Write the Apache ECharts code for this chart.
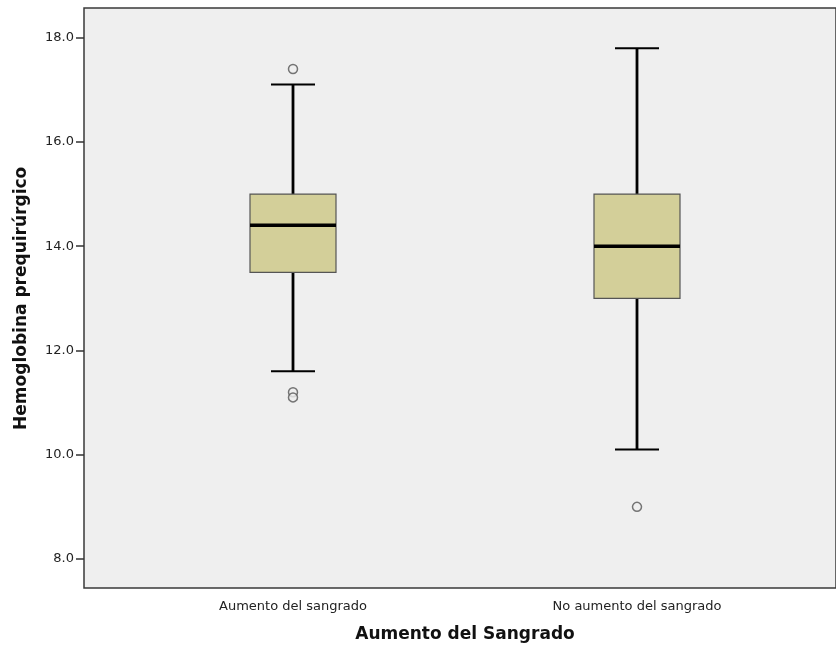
<!DOCTYPE html>
<html>
<head>
<meta charset="utf-8">
<script src="https://cdn.jsdelivr.net/npm/echarts@6/dist/echarts.min.js"></script>
<style>
  html, body { margin: 0; padding: 0; background: #fff; }
  #main { width: 836px; height: 651px; }
</style>
</head>
<body>
<div id="main"></div>
<script>
// datos
var categories = ['Aumento del sangrado', 'No aumento del sangrado'];
var whiskerLow = [11.6, 10.1];
var q1 = [13.5, 13.0];
var median = [14.4, 14.0];
var q3 = [15.0, 15.0];
var whiskerHigh = [17.1, 17.8];
// atípicos: [categoría, valor]
var outliers = [[0, 17.4], [0, 11.2], [0, 11.1], [1, 9.0]];

var boxData = categories.map(function (c, i) {
  return [i, whiskerLow[i], q1[i], median[i], q3[i], whiskerHigh[i]];
});

var FONT = '"DejaVu Sans", sans-serif';
var myChart = echarts.init(document.getElementById('main'));

function renderBox(params, api) {
  var x = api.value(0);
  var pLow = api.coord([x, api.value(1)]);
  var pQ1 = api.coord([x, api.value(2)]);
  var pMed = api.coord([x, api.value(3)]);
  var pQ3 = api.coord([x, api.value(4)]);
  var pHigh = api.coord([x, api.value(5)]);
  var cx = pQ1[0];
  var bw = 86, cw = 44;
  var lineStyle = { stroke: '#000', lineWidth: 2.8 };
  return {
    type: 'group',
    children: [
      { type: 'line', shape: { x1: cx, y1: pLow[1], x2: cx, y2: pQ1[1] }, style: lineStyle },
      { type: 'line', shape: { x1: cx, y1: pQ3[1], x2: cx, y2: pHigh[1] }, style: lineStyle },
      { type: 'line', shape: { x1: cx - cw / 2, y1: pLow[1], x2: cx + cw / 2, y2: pLow[1] }, style: { stroke: '#000', lineWidth: 2 } },
      { type: 'line', shape: { x1: cx - cw / 2, y1: pHigh[1], x2: cx + cw / 2, y2: pHigh[1] }, style: { stroke: '#000', lineWidth: 2 } },
      { type: 'rect', shape: { x: cx - bw / 2, y: pQ3[1], width: bw, height: pQ1[1] - pQ3[1] },
        style: { fill: '#d3cf99', stroke: '#555', lineWidth: 1.2 } },
      { type: 'line', shape: { x1: cx - bw / 2, y1: pMed[1], x2: cx + bw / 2, y2: pMed[1] }, style: { stroke: '#000', lineWidth: 3.5 } }
    ]
  };
}

var option = {
  animation: false,
  backgroundColor: '#fff',
  grid: [
    { // datos
      left: 121, right: 27, top: 37.7, bottom: 92
    },
    { // marco (el borde derecho queda fuera del lienzo)
      show: true, left: 84, width: 800, top: 8, bottom: 63,
      backgroundColor: '#efefef', borderColor: '#3a3a3a', borderWidth: 1.5, z: 0
    }
  ],
  xAxis: [
    {
      type: 'category', gridIndex: 0, data: categories,
      offset: 29,
      name: 'Aumento del Sangrado', nameLocation: 'middle', nameGap: 38,
      nameTextStyle: { fontFamily: FONT, fontWeight: 'bold', fontSize: 17, color: '#111' },
      axisLine: { show: false },
      axisTick: { alignWithLabel: true, length: 6, lineStyle: { color: '#333', width: 1.5 } },
      axisLabel: { margin: 12, fontFamily: FONT, fontSize: 13, color: '#222' }
    },
    { type: 'value', gridIndex: 1, show: false }
  ],
  yAxis: [
    {
      type: 'value', gridIndex: 0, min: 8, max: 18, interval: 2,
      offset: 37,
      name: 'Hemoglobina prequirúrgico', nameLocation: 'middle', nameGap: 54,
      nameTextStyle: { fontFamily: FONT, fontWeight: 'bold', fontSize: 17, color: '#111' },
      axisLine: { show: false },
      axisTick: { show: true, length: 8, lineStyle: { color: '#333', width: 1.5 } },
      axisLabel: { margin: 10, fontFamily: FONT, fontSize: 13, color: '#222',
        formatter: function (v) { return v.toFixed(1); } },
      splitLine: { show: false }
    },
    { type: 'value', gridIndex: 1, show: false }
  ],
  series: [
    {
      type: 'custom', xAxisIndex: 0, yAxisIndex: 0,
      renderItem: renderBox, data: boxData, z: 3
    },
    {
      type: 'scatter', xAxisIndex: 0, yAxisIndex: 0,
      data: outliers, symbol: 'circle', symbolSize: 9,
      itemStyle: { color: '#efefef', borderColor: '#555', borderWidth: 1.5 }, z: 4
    }
  ]
};
myChart.setOption(option);
</script>
</body>
</html>
